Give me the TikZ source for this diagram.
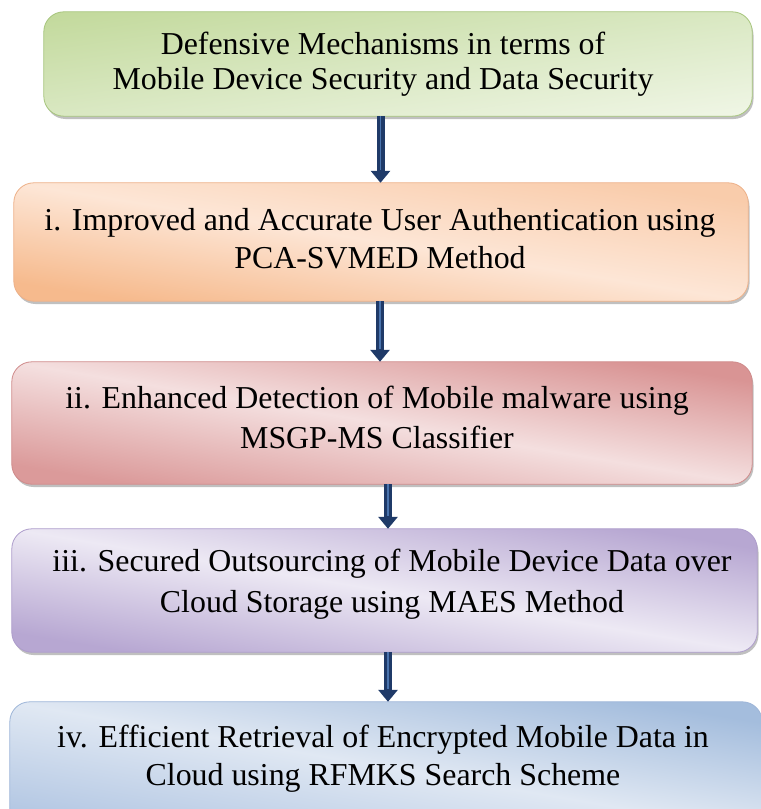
\documentclass[tikz,border=0pt]{standalone}
\usepackage{fontspec}
\setmainfont{Liberation Serif}
\usetikzlibrary{arrows.meta,shadows}
\definecolor{navy}{HTML}{1F3A68}
\definecolor{navyhi}{HTML}{4A74AE}
\definecolor{gT}{HTML}{C2D99B}\definecolor{gM}{HTML}{DBE9C5}\definecolor{gB}{HTML}{F0F6E6}\definecolor{gD}{HTML}{A6C57C}
\definecolor{oT}{HTML}{F9CCAB}\definecolor{oM}{HTML}{FDE6D6}\definecolor{oB}{HTML}{F6BA8D}\definecolor{oD}{HTML}{EDB088}
\definecolor{rT}{HTML}{D99494}\definecolor{rM}{HTML}{F4DFDF}\definecolor{rB}{HTML}{DB9A9A}\definecolor{rD}{HTML}{CF8A8A}
\definecolor{pT}{HTML}{B7A7D2}\definecolor{pM}{HTML}{EDE9F4}\definecolor{pB}{HTML}{B7A7D2}\definecolor{pD}{HTML}{AD9CCB}
\definecolor{bT}{HTML}{A4BDDD}\definecolor{bM}{HTML}{E0E8F3}\definecolor{bB}{HTML}{B3C7E3}\definecolor{bD}{HTML}{9DB5D8}
\pgfdeclareverticalshading{shG}{100bp}{color(0bp)=(gB); color(25bp)=(gB); color(48bp)=(gM); color(75bp)=(gT); color(100bp)=(gT)}
\pgfdeclareverticalshading{shO}{100bp}{color(0bp)=(oB); color(29bp)=(oB); color(50bp)=(oM); color(71bp)=(oT); color(100bp)=(oT)}
\pgfdeclareverticalshading{shR}{100bp}{color(0bp)=(rB); color(29bp)=(rB); color(50bp)=(rM); color(71bp)=(rT); color(100bp)=(rT)}
\pgfdeclareverticalshading{shP}{100bp}{color(0bp)=(pB); color(29bp)=(pB); color(50bp)=(pM); color(71bp)=(pT); color(100bp)=(pT)}
\pgfdeclareverticalshading{shB}{100bp}{color(0bp)=(bB); color(29bp)=(bB); color(50bp)=(bM); color(71bp)=(bT); color(100bp)=(bT)}
\tikzset{
  box/.style={rectangle, rounded corners=20bp, inner sep=0pt, fill=white,
    drop shadow={shadow xshift=1.5bp, shadow yshift=-3bp, fill=black!45, opacity=0.55}},
  rim/.style={line width=0.8bp, rounded corners=20bp},
  txt/.style={align=center, inner sep=0pt, font=\fontsize{32}{38}\selectfont},
  flow/.style={draw=navy, line width=8bp, -{Triangle[length=12bp 0 0, width=19bp 0 0]}},
  flowhi/.style={draw=navyhi, line width=1.6bp, shorten >=13bp},
}
\begin{document}
\begin{tikzpicture}[x=1bp, y=-1bp]
\useasboundingbox (0,0) rectangle (761,809);
% boxes (shadow + base)
\node[box, minimum width=708bp, minimum height=104bp] (b1) at (398,64) {};
\node[box, minimum width=734bp, minimum height=118bp] (b2) at (381,242) {};
\node[box, minimum width=740bp, minimum height=122bp] (b3) at (382,423) {};
\node[box, minimum width=745bp, minimum height=123bp] (b4) at (384.5,590.5) {};
\node[box, minimum width=752bp, minimum height=130bp] (b5) at (386,767) {};
% gradient fills and rims
\foreach \n/\s/\a/\h/\c in {b1/shG/8.36/102.9/gD, b2/shO/-9.13/116.5/oD, b3/shR/-9.36/120.4/rD, b4/shP/-9.37/121.4/pD, b5/shB/-9.8/128.1/bD}{
  \begin{scope}
    \clip[rounded corners=20bp] (\n.north west) rectangle (\n.south east);
    \begin{scope}[transform canvas={shift={(\n.center)}, rotate=\a}]
      \shade[shading=\s] (-420bp,-\h bp) rectangle (420bp,\h bp);
    \end{scope}
  \end{scope}
  \draw[rim, draw=\c] (\n.north west) rectangle (\n.south east);
}
% texts
\node[txt, font=\fontsize{32}{35}\selectfont] (t1) at (383,64.5) {Defensive Mechanisms in terms of\\Mobile Device Security and Data Security};
\node[txt] (t2) at (380,239) {i. Improved and Accurate User Authentication using\\PCA-SVMED Method};
\node[txt, font=\fontsize{32}{41}\selectfont] (t3) at (377,417.5) {ii. Enhanced Detection of Mobile malware using\\MSGP-MS Classifier};
\node[txt, font=\fontsize{32}{41}\selectfont] (t4) at (392,584.5) {iii. Secured Outsourcing of Mobile Device Data over\\Cloud Storage using MAES Method};
\node[txt] (t5) at (383,759) {iv. Efficient Retrieval of Encrypted Mobile Data in\\Cloud using RFMKS Search Scheme};
% arrow columns
\coordinate (c1) at (380.5,0);
\coordinate (c2) at (380,0);
\coordinate (c3) at (388,0);
\coordinate (c4) at (388,0);
% arrows
\foreach \a/\b/\c in {b1/b2/c1, b2/b3/c2, b3/b4/c3, b4/b5/c4}{
  \draw[flow] (\a.south -| \c) -- (\b.north -| \c);
  \draw[flowhi] (\a.south -| \c) -- (\b.north -| \c);
}
\end{tikzpicture}
\end{document}
